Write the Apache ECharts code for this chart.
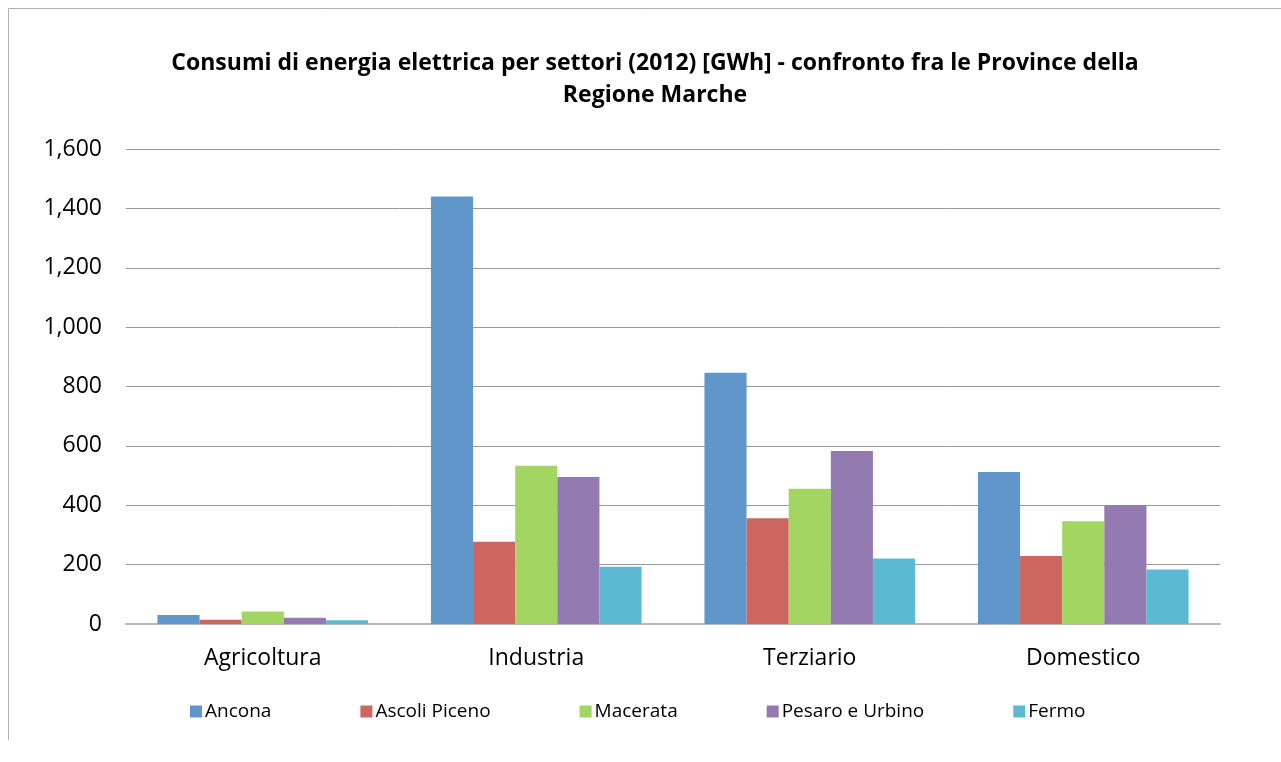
<!DOCTYPE html>
<html>
<head>
<meta charset="utf-8">
<script src="https://cdn.jsdelivr.net/npm/echarts@6/dist/echarts.min.js"></script>
<style>
  html, body { margin: 0; padding: 0; background: #fff; }
  #chart { width: 1281px; height: 762px; }
</style>
</head>
<body>
<div id="chart"></div>
<script>
const categories = ['Agricoltura', 'Industria', 'Terziario', 'Domestico'];
const ancona = [30, 1440, 846, 512];
const ascoliPiceno = [14, 277, 356, 229];
const macerata = [42, 533, 456, 346];
const pesaroUrbino = [21, 495, 583, 400];
const fermo = [13, 193, 221, 184];

const font = 'Open Sans';
const chart = echarts.init(document.getElementById('chart'));

const mkSeries = (name, data, color) => ({
  name: name,
  type: 'bar',
  data: data,
  barGap: '0%',
  barCategoryGap: '23%',
  itemStyle: { color: color }
});

chart.setOption({
  animation: false,
  textStyle: { fontFamily: font },
  graphic: [{
    type: 'polyline',
    shape: { points: [[8.5, 740], [8.5, 8.5], [1281, 8.5]] },
    style: { stroke: '#b0b0b0', fill: null, lineWidth: 1 }
  }],
  title: {
    text: 'Consumi di energia elettrica per settori (2012) [GWh] - confronto fra le Province della\nRegione Marche',
    left: 650,
    textAlign: 'center',
    top: 42,
    textStyle: { fontFamily: font, fontSize: 23, fontWeight: 'bold', color: '#000', lineHeight: 32 }
  },
  legend: {
    bottom: 36,
    left: 185,
    itemWidth: 12,
    itemHeight: 12,
    itemGap: 89,
    icon: 'rect',
    textStyle: { fontFamily: font, fontSize: 19, color: '#000', padding: [0, 0, 0, -2] },
    data: ['Ancona', 'Ascoli Piceno', 'Macerata', 'Pesaro e Urbino', 'Fermo']
  },
  grid: { left: 126, right: 61, top: 149, bottom: 138 },
  xAxis: {
    type: 'category',
    data: categories,
    axisTick: { show: false },
    axisLine: { lineStyle: { color: '#b8b8b8', width: 2 } },
    axisLabel: { fontFamily: font, fontSize: 23, color: '#000', margin: 23 }
  },
  yAxis: {
    type: 'value',
    min: 0,
    max: 1600,
    interval: 200,
    axisLine: { show: false },
    axisTick: { show: false },
    splitLine: { lineStyle: { color: '#999', width: 1 } },
    axisLabel: {
      fontFamily: font, fontSize: 23, color: '#000', margin: 24,
      formatter: v => v.toLocaleString('en-US')
    }
  },
  series: [
    mkSeries('Ancona', ancona, '#6196ca'),
    mkSeries('Ascoli Piceno', ascoliPiceno, '#cd665f'),
    mkSeries('Macerata', macerata, '#a2d561'),
    mkSeries('Pesaro e Urbino', pesaroUrbino, '#937ab0'),
    mkSeries('Fermo', fermo, '#5bb9d2')
  ]
});
</script>
</body>
</html>
